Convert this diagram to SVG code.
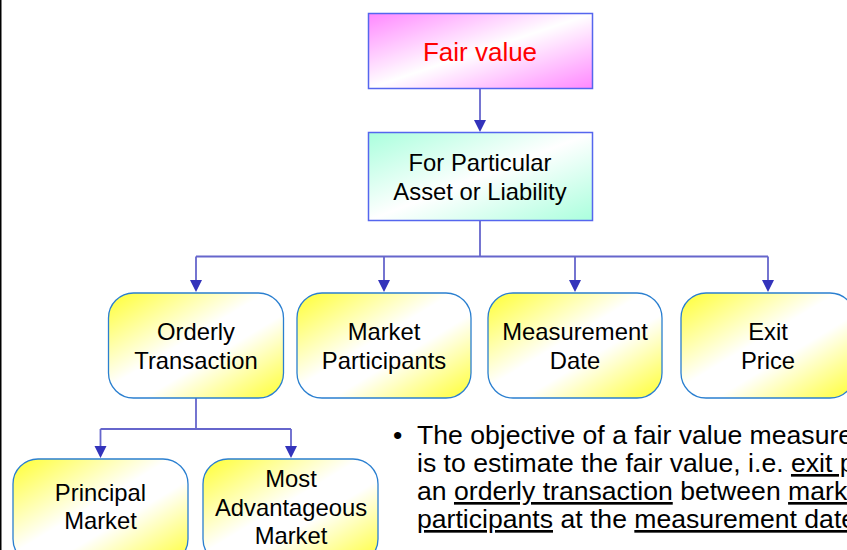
<svg xmlns="http://www.w3.org/2000/svg" width="847" height="550" viewBox="0 0 847 550">
<style>
text{font-family:"Liberation Sans",Arial,sans-serif;text-anchor:middle}
.lbl{font-size:23.8px;fill:#000}
.y{fill:url(#gy);stroke:#2a7fd0;stroke-width:1.3}
.c{fill:none;stroke:#6666cc;stroke-width:1.8}
.b{font-size:26.6px;text-anchor:start;fill:#000}
</style>
<defs>
<linearGradient id="gm" x1="0" y1="0" x2="1" y2="1">
<stop offset="0" stop-color="#ff88ff"/><stop offset="0.5" stop-color="#ffffff"/><stop offset="1" stop-color="#ff88ff"/>
</linearGradient>
<linearGradient id="gc" x1="0" y1="0" x2="1" y2="1">
<stop offset="0" stop-color="#aaffdd"/><stop offset="0.5" stop-color="#ffffff"/><stop offset="1" stop-color="#aaffdd"/>
</linearGradient>
<linearGradient id="gy" x1="0" y1="0" x2="1" y2="1">
<stop offset="0" stop-color="#ffff33"/><stop offset="0.45" stop-color="#ffffff"/><stop offset="0.6" stop-color="#ffffff"/><stop offset="1" stop-color="#ffff33"/>
</linearGradient>
</defs>
<rect x="0" y="0" width="847" height="550" fill="#fff"/>
<line x1="0.75" y1="0" x2="0.75" y2="550" stroke="#000" stroke-width="1.5"/>
<g id="connectors">
<path class="c" d="M480,88 V120" />
<path d="M474,120 L486,120 L480,132 Z" fill="#3333bb"/>
<path class="c" d="M480,220 V256.5 M196,256.5 H768 M196,256.5 V281 M384,256.5 V281 M575,256.5 V281 M768,256.5 V281"/>
<path d="M190,280 L202,280 L196,292 Z M378,280 L390,280 L384,292 Z M569,280 L581,280 L575,292 Z M762,280 L774,280 L768,292 Z" fill="#3333bb"/>
<path class="c" d="M196,398 V429 M100.5,429 H291 M100.5,429 V447 M291,429 V447"/>
<path d="M94.5,446 L106.5,446 L100.5,458 Z M285,446 L297,446 L291,458 Z" fill="#3333bb"/>
</g>
<g id="fairvalue">
<rect x="368.5" y="13.5" width="224" height="75" fill="url(#gm)" stroke="#5566ee" stroke-width="1.5"/>
<text x="480" y="61" font-size="26" fill="#ff0000">Fair value</text>
</g>
<g id="particular">
<rect x="368.5" y="132.5" width="224" height="88" fill="url(#gc)" stroke="#5566ee" stroke-width="1.5"/>
<text class="lbl" x="480" y="171">For Particular</text>
<text class="lbl" x="480" y="200">Asset or Liability</text>
</g>
<g id="orderly">
<rect class="y" x="108.5" y="293" width="175" height="105" rx="25"/>
<text class="lbl" x="196" y="340">Orderly</text>
<text class="lbl" x="196" y="369">Transaction</text>
</g>
<g id="participants">
<rect class="y" x="297" y="293" width="174" height="105" rx="25"/>
<text class="lbl" x="384" y="340">Market</text>
<text class="lbl" x="384" y="369">Participants</text>
</g>
<g id="date">
<rect class="y" x="488" y="293" width="174" height="105" rx="25"/>
<text class="lbl" x="575" y="340">Measurement</text>
<text class="lbl" x="575" y="369">Date</text>
</g>
<g id="exit">
<rect class="y" x="681" y="293" width="174" height="105" rx="25"/>
<text class="lbl" x="768" y="340">Exit</text>
<text class="lbl" x="768" y="369">Price</text>
</g>
<g id="principal">
<rect class="y" x="13" y="459" width="175" height="105" rx="25"/>
<text class="lbl" x="100.5" y="501">Principal</text>
<text class="lbl" x="100.5" y="529">Market</text>
</g>
<g id="advantageous">
<rect class="y" x="203" y="459" width="175" height="105" rx="25"/>
<text class="lbl" x="291" y="487">Most</text>
<text class="lbl" x="291" y="516">Advantageous</text>
<text class="lbl" x="291" y="544">Market</text>
</g>
<g id="bullet">
<text class="b" x="393" y="444">•</text>
<text class="b" x="417" y="444">The objective of a fair value measurement</text>
<text class="b" x="417" y="472">is to estimate the fair value, i.e. <tspan text-decoration="underline">exit price</tspan></text>
<text class="b" x="417" y="500">an <tspan text-decoration="underline">orderly transaction</tspan> between <tspan text-decoration="underline">market</tspan></text>
<text class="b" x="417" y="528"><tspan text-decoration="underline">participants</tspan> at the <tspan text-decoration="underline">measurement date</tspan></text>
</g>
</svg>
